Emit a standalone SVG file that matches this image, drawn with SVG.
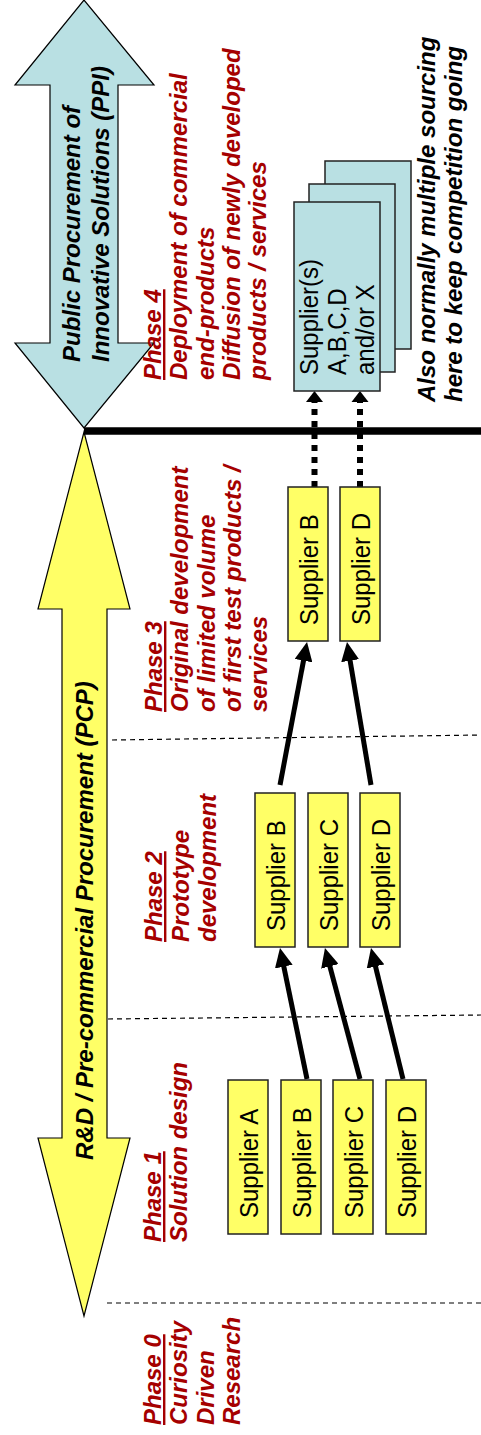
<svg xmlns="http://www.w3.org/2000/svg" width="481" height="1435" viewBox="0 0 481 1435">
<style>
.big{font-family:"Liberation Sans",Arial,sans-serif;font-size:24px;font-weight:bold;font-style:italic;fill:#000}
.phase{font-family:"Liberation Sans",Arial,sans-serif;font-size:24px;font-weight:bold;font-style:italic;fill:#a50000}
.ul{text-decoration:underline}
.sup{font-family:"Liberation Sans",Arial,sans-serif;font-size:24px;fill:#000}
.ybox{fill:#ffff66;stroke:#222;stroke-width:1.5}
.bbox{fill:#b9e0e3;stroke:#222;stroke-width:1.5}
.dash{stroke:#000;stroke-width:1.2;stroke-dasharray:5,4;fill:none}
.solid{stroke:#000;stroke-width:5;fill:none;marker-end:url(#ah)}
.dot{stroke:#000;stroke-width:6;stroke-dasharray:6,6;fill:none}
</style>
<defs>
<marker id="ah" markerUnits="userSpaceOnUse" markerWidth="20" markerHeight="18" refX="8" refY="9" orient="auto">
<path d="M0,0 L19,9 L0,18 z" fill="#000"/>
</marker>
</defs>

<g id="phase-lines">
<line class="dash" x1="112" y1="740" x2="481" y2="735"/>
<line class="dash" x1="108" y1="1019" x2="481" y2="1015"/>
<line class="dash" x1="107" y1="1303" x2="481" y2="1303"/>
</g>

<g id="ppi-arrow">
<polygon points="84,0 154,85 118,85 118,343 154,343 84,428 15,343 50,343 50,85 15,85" fill="#b9e0e3" stroke="#000" stroke-width="1.2"/>
<text class="big" transform="translate(80,362) rotate(-90)"><tspan x="0" y="0">Public Procurement of</tspan><tspan x="0" y="29">Innovative Solutions (PPI)</tspan></text>
</g>

<g id="pcp-arrow">
<polygon points="84,432 130,609 107,609 107,1138 130,1138 84,1316 38,1138 62,1138 62,609 38,609" fill="#ffff66" stroke="#000" stroke-width="1.2"/>
<text class="big" transform="translate(93,1160) rotate(-90)">R&amp;D / Pre-commercial Procurement (PCP)</text>
</g>

<g id="phase4">
<text class="phase" transform="translate(161,380) rotate(-90)"><tspan class="ul" x="0" y="0">Phase 4</tspan><tspan x="0" y="26.3">Deployment of commercial</tspan><tspan x="0" y="52.6">end-products</tspan><tspan x="0" y="78.9">Diffusion of newly developed</tspan><tspan x="0" y="105.2">products / services</tspan></text>
</g>
<g id="phase3">
<text class="phase" transform="translate(162,712) rotate(-90)"><tspan class="ul" x="0" y="0">Phase 3</tspan><tspan x="0" y="26.3">Original development</tspan><tspan x="0" y="52.6">of limited volume</tspan><tspan x="0" y="78.9">of first test products /</tspan><tspan x="0" y="105.2">services</tspan></text>
</g>
<g id="phase2">
<text class="phase" transform="translate(162,942) rotate(-90)"><tspan class="ul" x="0" y="0">Phase 2</tspan><tspan x="0" y="27">Prototype</tspan><tspan x="0" y="54">development</tspan></text>
</g>
<g id="phase1">
<text class="phase" transform="translate(161,1242) rotate(-90)"><tspan class="ul" x="0" y="0">Phase 1</tspan><tspan x="0" y="26.3">Solution design</tspan></text>
</g>
<g id="phase0">
<text class="phase" transform="translate(161,1425) rotate(-90)"><tspan class="ul" x="0" y="0">Phase 0</tspan><tspan x="0" y="26.3">Curiosity</tspan><tspan x="0" y="52.6">Driven</tspan><tspan x="0" y="78.9">Research</tspan></text>
</g>

<g id="note">
<text class="big" transform="translate(435,402) rotate(-90)"><tspan x="0" y="0">Also normally multiple sourcing</tspan><tspan x="0" y="27">here to keep competition going</tspan></text>
</g>

<g id="connectors">
<line class="solid" x1="307" y1="1079" x2="282.2" y2="958.8"/>
<line class="solid" x1="360" y1="1079" x2="327.8" y2="958.6"/>
<line class="solid" x1="403" y1="1079" x2="373.6" y2="958.7"/>
<line class="solid" x1="280" y1="785" x2="305.0" y2="652.8"/>
<line class="solid" x1="371" y1="785" x2="348.8" y2="652.8"/>
<line class="dot" x1="314.5" y1="487" x2="314.5" y2="402"/>
<line class="dot" x1="360" y1="487" x2="360" y2="402"/>
<polygon points="314.5,391 306,402 323,402" fill="#000"/>
<polygon points="360,391 351.5,402 368.5,402" fill="#000"/>
<line x1="84" y1="431" x2="481" y2="431" stroke="#000" stroke-width="7.5"/>
</g>

<g id="suppliers-ppi">
<rect class="bbox" x="325" y="161" width="86" height="188"/>
<rect class="bbox" x="309" y="184" width="86" height="188"/>
<rect class="bbox" x="294" y="202" width="86" height="189"/>
<text class="sup" transform="translate(318,375) rotate(-90) scale(1,1.08)"><tspan x="0" y="0">Supplier(s)</tspan><tspan x="0" y="26">A,B,C,D</tspan><tspan x="0" y="52">and/or X</tspan></text>
</g>

<g id="p3-supplier-b"><rect class="ybox" x="288" y="487" width="40" height="154"/><text class="sup" transform="translate(317.5,625) rotate(-90) scale(1,1.1)">Supplier B</text></g>
<g id="p3-supplier-d"><rect class="ybox" x="340" y="487" width="40" height="154"/><text class="sup" transform="translate(369.5,625) rotate(-90) scale(1,1.1)">Supplier D</text></g>

<g id="p2-supplier-b"><rect class="ybox" x="255" y="793" width="40" height="154"/><text class="sup" transform="translate(284.5,931) rotate(-90) scale(1,1.1)">Supplier B</text></g>
<g id="p2-supplier-c"><rect class="ybox" x="308" y="793" width="40" height="154"/><text class="sup" transform="translate(337.5,931) rotate(-90) scale(1,1.1)">Supplier C</text></g>
<g id="p2-supplier-d"><rect class="ybox" x="360" y="793" width="40" height="154"/><text class="sup" transform="translate(389.5,931) rotate(-90) scale(1,1.1)">Supplier D</text></g>

<g id="p1-supplier-a"><rect class="ybox" x="228" y="1080" width="40" height="154"/><text class="sup" transform="translate(257.5,1218) rotate(-90) scale(1,1.1)">Supplier A</text></g>
<g id="p1-supplier-b"><rect class="ybox" x="281" y="1080" width="40" height="154"/><text class="sup" transform="translate(310.5,1218) rotate(-90) scale(1,1.1)">Supplier B</text></g>
<g id="p1-supplier-c"><rect class="ybox" x="333" y="1080" width="40" height="154"/><text class="sup" transform="translate(362.5,1218) rotate(-90) scale(1,1.1)">Supplier C</text></g>
<g id="p1-supplier-d"><rect class="ybox" x="386" y="1080" width="40" height="154"/><text class="sup" transform="translate(415.5,1218) rotate(-90) scale(1,1.1)">Supplier D</text></g>
</svg>
